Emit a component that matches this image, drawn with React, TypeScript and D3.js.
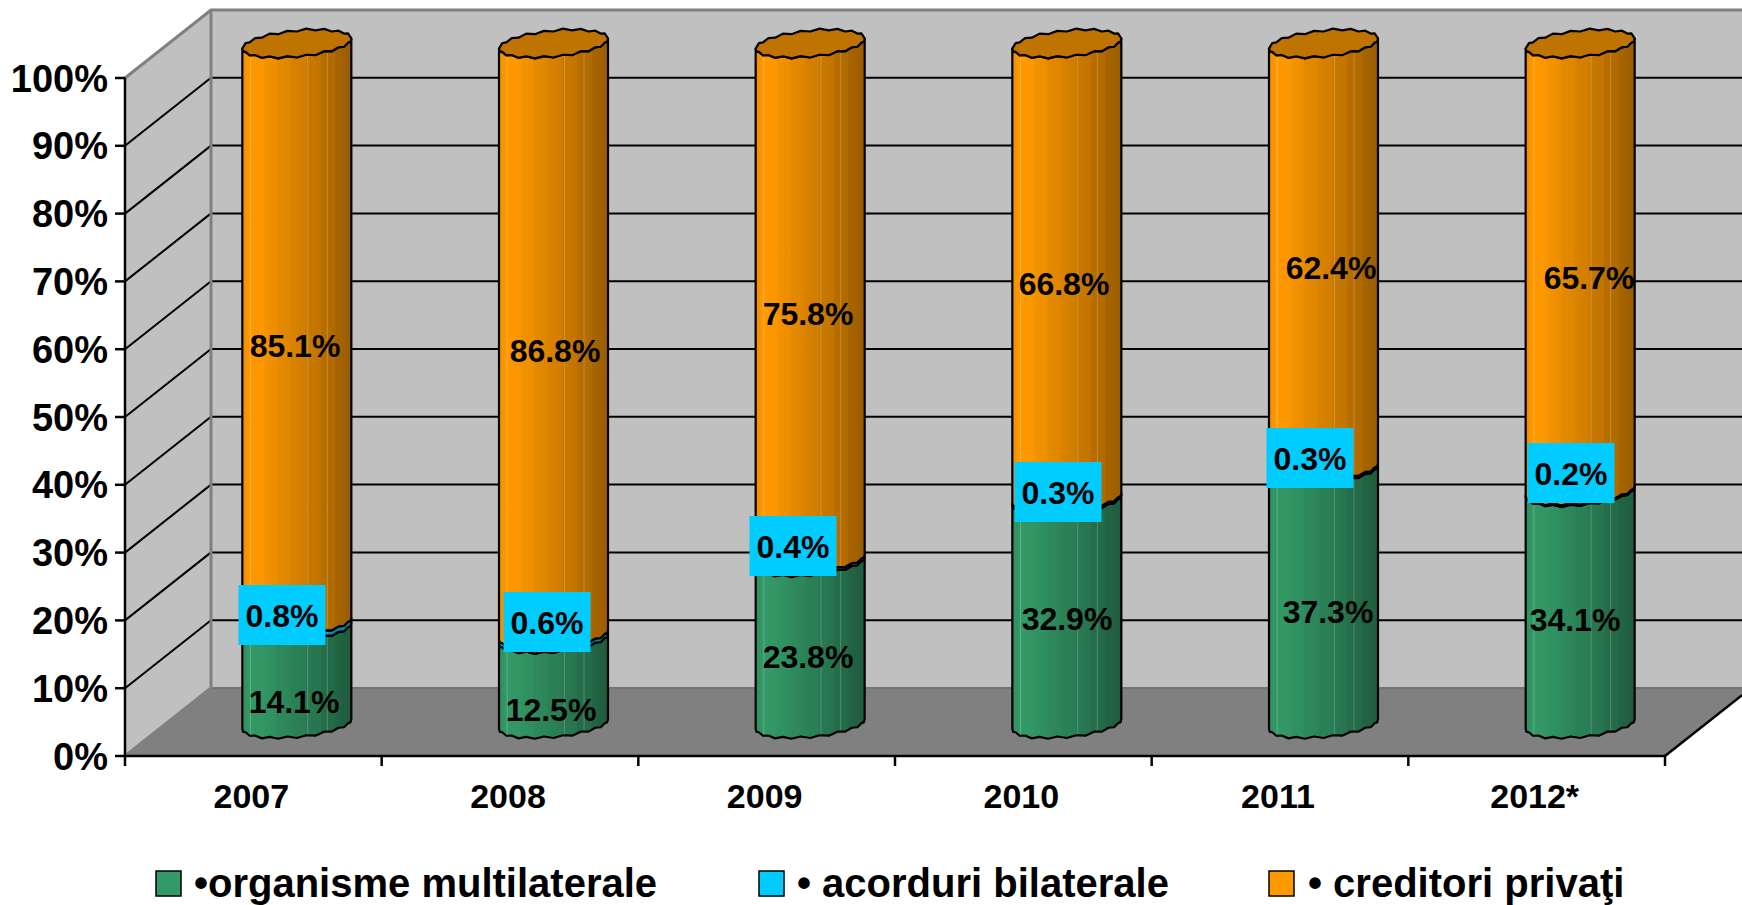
import React from "react";
import * as d3 from "d3";

const categories = ["2007", "2008", "2009", "2010", "2011", "2012*"];
const multilateral = [14.1, 12.5, 23.8, 32.9, 37.3, 34.1];
const bilateral = [0.8, 0.6, 0.4, 0.3, 0.3, 0.2];
const privateCreditors = [85.1, 86.8, 75.8, 66.8, 62.4, 65.7];
const yTicks = [0, 10, 20, 30, 40, 50, 60, 70, 80, 90, 100];
const seriesNames = ["•organisme multilaterale", "• acorduri bilaterale", "• creditori privaţi"];
const seriesColors = ["#339966", "#00CCFF", "#FF9900"];
const seriesValues = [multilateral, bilateral, privateCreditors];

// Layout: where each hand-placed label sits in the picture.
const labelX = [
  [294, 551, 808, 1067, 1328, 1575],
  [282, 547, 793, 1058, 1310, 1571],
  [295, 555, 808, 1064, 1331, 1589],
];
const labelY = [
  [701, 709, 656, 618, 611, 619],
  [615, 622, 546, 492, 458, 473],
  [345, 350, 313, 283, 267, 277],
];
const legendSwatchX = [156, 759, 1269];
const legendTextX = [194, 797, 1308];

const W = 1742, H = 905;
const FONT = "'Liberation Sans', Arial, sans-serif";
const frontL = 125, frontR = 1665, front0 = 756, front100 = 78;
const depthX = 86, depthY = 68;

const x = d3.scaleBand<string>().domain(categories).range([frontL, frontR]);
const yFront = d3.scaleLinear().domain([0, 100]).range([front0, front100]);
// the cylinders stand midway through the floor's depth
const yBar = d3.scaleLinear().domain([0, 100]).range([724, 43.5]);
const cxOf = (c: string) => (x(c) as number) + x.bandwidth() / 2 + depthX / 2 + 0.5;

const rx = 54.5, ry = 13, tilt = 5;
const wobble = [0, 1, -0.6, 1.1, -0.8, 0.9, -1.1, 1.2, -0.7, 1, -1.2, 0.8, -0.9, 1.2, -0.6, 0.9, -0.9, 0.7, 0];
const arcPts = (cx: number, cy: number, from: number, to: number): [number, number][] =>
  wobble.map((w, i) => {
    const t = from + ((to - from) * i) / (wobble.length - 1);
    return [cx + rx * Math.cos(t), cy + ry * Math.sin(t) - tilt * Math.cos(t) + w] as [number, number];
  });
const line = d3.line<[number, number]>();

const shades: [number, number][] = [
  [0, 0.93], [0.07, 1.0], [0.2, 0.98], [0.2, 0.96], [0.32, 0.93], [0.32, 0.9], [0.45, 0.87],
  [0.45, 0.85], [0.58, 0.82], [0.58, 0.79], [0.72, 0.76], [0.72, 0.72], [0.85, 0.69], [0.85, 0.66], [0.93, 0.63], [1, 0.6],
];
const shade = (color: string, k: number) => {
  const c = d3.rgb(color);
  return d3.rgb(c.r * k, c.g * k, c.b * k).formatHex();
};
const lightLines = [0.075, 0.6, 0.78];

export default function App() {
  const stacked = d3
    .stack<number>()
    .keys([0, 1, 2] as any)
    .value((i: number, k: any) => seriesValues[k][i])
    .offset(d3.stackOffsetExpand)(categories.map((_, i) => i));

  const gridLevels = yTicks.filter((t) => t > 0 && t < 100);
  const textStyle = { fontFamily: FONT, fontWeight: 700, fill: "#000" } as const;

  return (
    <svg width={W} height={H} viewBox={`0 0 ${W} ${H}`} style={{ position: "absolute", left: 0, top: 0, display: "block", background: "#fff" }}>
      <defs>
        {seriesColors.map((col, i) => (
          <linearGradient key={i} id={`grad${i}`} x1="0" x2="1" y1="0" y2="0">
            {shades.map(([o, k], j) => (
              <stop key={j} offset={o} stopColor={shade(col, k)} />
            ))}
          </linearGradient>
        ))}
      </defs>

      {/* walls and floor */}
      <polygon
        points={`${frontL + depthX},${front100 - depthY} ${W + 2},${front100 - depthY} ${W + 2},${front0 - depthY} ${frontL + depthX},${front0 - depthY}`}
        fill="#C0C0C0"
      />
      <polygon
        points={`${frontL},${front0} ${frontL + depthX},${front0 - depthY} ${frontL + depthX},${front100 - depthY} ${frontL},${front100}`}
        fill="#C0C0C0"
      />
      <polygon
        points={`${frontL},${front0} ${frontR},${front0} ${frontR + depthX},${front0 - depthY} ${frontL + depthX},${front0 - depthY}`}
        fill="#808080"
      />
      <line x1={frontL + depthX} x2={W} y1={front0 - depthY} y2={front0 - depthY} stroke="#747474" strokeWidth={2} />

      {gridLevels.map((t) => (
        <g key={t} stroke="#000" strokeWidth={2}>
          <line x1={frontL} y1={yFront(t)} x2={frontL + depthX} y2={yFront(t) - depthY} />
          <line x1={frontL + depthX} y1={yFront(t) - depthY} x2={W} y2={yFront(t) - depthY} />
        </g>
      ))}

      <g fill="none" stroke="#808080" strokeWidth={3}>
        <path d={`M${frontL},${front100}L${frontL + depthX},${front100 - depthY}H${W}`} />
        <path d={`M${frontL + depthX},${front100 - depthY}V${front0 - depthY}L${frontL},${front0}`} />
      </g>

      {/* axes */}
      <g stroke="#000" strokeWidth={2.5} fill="none">
        <line x1={frontL} x2={frontL} y1={front100} y2={front0} />
        <line x1={frontL - 1} x2={frontR} y1={front0} y2={front0} />
        <line x1={frontR} y1={front0} x2={W} y2={front0 - (W - frontR) * (depthY / depthX)} />
        {yTicks.map((t) => (
          <line key={t} x1={frontL - 10} x2={frontL} y1={yFront(t)} y2={yFront(t)} />
        ))}
        {categories.map((c) => (
          <line key={c} x1={x(c)} x2={x(c)} y1={front0} y2={front0 + 10} />
        ))}
        <line x1={frontR} x2={frontR} y1={front0} y2={front0 + 10} />
      </g>

      {/* cylinders */}
      {categories.map((c, i) => {
        const cx = cxOf(c);
        const topY = yBar(100);
        return (
          <g key={c}>
            {stacked.map((s, si) => {
              const y0 = yBar(s[i][0] * 100);
              const y1 = yBar(s[i][1] * 100);
              const lower = arcPts(cx, y0, 0, Math.PI); // right to left along the front
              const upper = arcPts(cx, y1, Math.PI, 0); // left to right along the front
              const d = (line([...lower, ...upper]) as string) + "Z";
              const clipId = `clip-${i}-${si}`;
              return (
                <g key={si}>
                  <clipPath id={clipId}>
                    <path d={d} />
                  </clipPath>
                  <path d={d} fill={`url(#grad${si})`} />
                  <g clipPath={`url(#${clipId})`}>
                    {lightLines.map((o) => (
                      <line
                        key={o}
                        x1={cx - rx + 2 * rx * o}
                        x2={cx - rx + 2 * rx * o}
                        y1={y1 - 30}
                        y2={y0 + 30}
                        stroke="#fff"
                        strokeOpacity={0.22}
                        strokeWidth={1}
                      />
                    ))}
                  </g>
                  <path d={d} fill="none" stroke="#000" strokeWidth={2.2} strokeLinejoin="round" />
                </g>
              );
            })}
            <path
              d={(line([...arcPts(cx, topY, 0, Math.PI), ...arcPts(cx, topY, Math.PI, 2 * Math.PI)]) as string) + "Z"}
              fill="#BF7300"
              stroke="#000"
              strokeWidth={2.2}
              strokeLinejoin="round"
            />
          </g>
        );
      })}

      {/* data labels */}
      {seriesValues.map((vals, si) =>
        vals.map((v, i) => {
          const lx = labelX[si][i];
          const ly = labelY[si][i];
          return (
            <g key={`${si}-${i}`}>
              {si === 1 && <rect x={lx - 43.5} y={ly - 30} width={87} height={60} fill="#00CCFF" />}
              <text x={lx} y={ly} dy="0.36em" textAnchor="middle" fontSize={32} style={textStyle}>
                {v.toFixed(1)}%
              </text>
            </g>
          );
        })
      )}

      {/* axis labels */}
      {yTicks.map((t) => (
        <text key={t} x={108} y={yFront(t)} dy="0.36em" textAnchor="end" fontSize={38} style={textStyle}>
          {t}%
        </text>
      ))}
      {categories.map((c) => (
        <text key={c} x={(x(c) as number) + x.bandwidth() / 2 - 2} y={796} dy="0.36em" textAnchor="middle" fontSize={34} style={textStyle}>
          {c}
        </text>
      ))}

      {/* legend */}
      {seriesNames.map((n, i) => (
        <g key={n}>
          <rect x={legendSwatchX[i]} y={871} width={25} height={25} fill={seriesColors[i]} stroke="#000" strokeWidth={1.5} />
          <text x={legendTextX[i]} y={897} fontSize={40} style={textStyle}>
            {n}
          </text>
        </g>
      ))}
    </svg>
  );
}
